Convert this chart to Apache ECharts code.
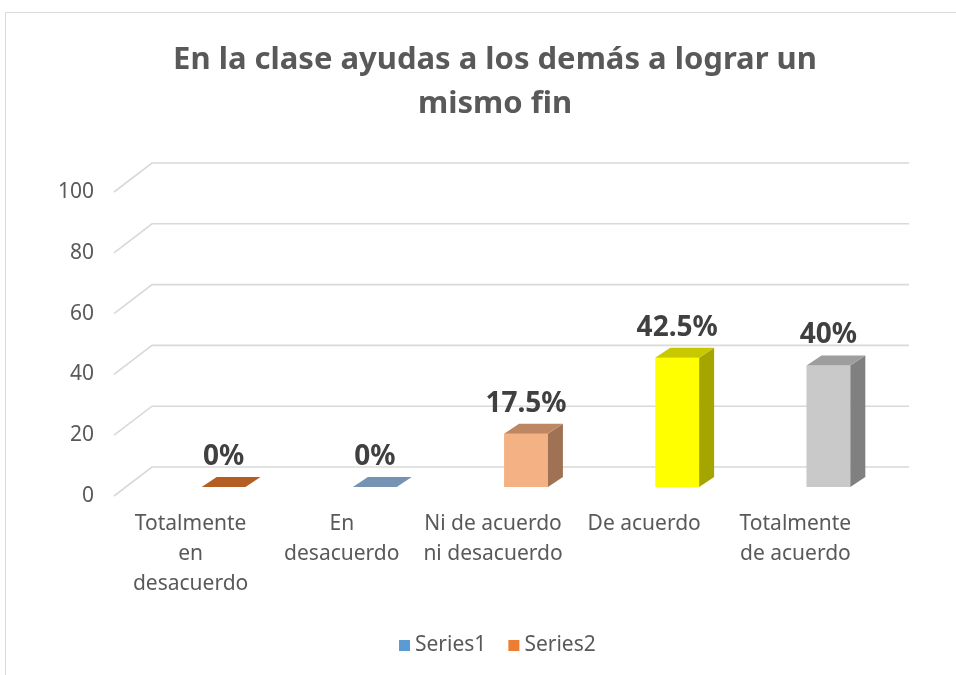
<!DOCTYPE html>
<html>
<head>
<meta charset="utf-8">
<script src="https://cdn.jsdelivr.net/npm/echarts@6/dist/echarts.min.js"></script>
<style>
  html, body { margin: 0; padding: 0; background: #fff; }
  #chart { width: 956px; height: 675px; }
</style>
</head>
<body>
<div id="chart"></div>
<script>
const categories = [
  'Totalmente\nen\ndesacuerdo',
  'En\ndesacuerdo',
  'Ni de acuerdo\nni desacuerdo',
  'De acuerdo',
  'Totalmente\nde acuerdo',
]
const values = [0, 0, 17.5, 42.5, 40]
const valueLabels = ['0%', '0%', '17.5%', '42.5%', '40%']
const yTicks = [0, 20, 40, 60, 80, 100]
const seriesNames = ['Series1', 'Series2']

// front / side / top colours per bar
const barColors = [
  { front: '#ed7d31', side: '#a0521f', top: '#b55e23' },
  { front: '#9dc3e6', side: '#5f7f9f', top: '#7593b3' },
  { front: '#f4b183', side: '#9e7253', top: '#be8763' },
  { front: '#ffff00', side: '#a5a500', top: '#c8c800' },
  { front: '#c9c9c9', side: '#808080', top: '#9e9e9e' },
]

const FONT = 'Noto Sans'
const DEPTH_X = 15 // bar depth
const DEPTH_Y = -10

const chart = echarts.init(document.getElementById('chart'), null, { renderer: 'canvas' })

// back walls / floor grid lines (drawn in bar plane coords)
function renderGridLine(params, api) {
  const cs = params.coordSys
  const y = api.coord([0, api.value(0)])[1]
  return {
    type: 'polyline',
    shape: {
      points: [
        [cs.x - 34, y + 9],
        [cs.x + 4, y - 20],
        [cs.x + cs.width + 5, y - 20],
      ],
    },
    style: { stroke: '#d9d9d9', lineWidth: 1.6, fill: null },
    silent: true,
  }
}

function renderBar(params, api) {
  const i = params.dataIndex
  const c = barColors[i]
  const base = api.coord([api.value(0), 0])
  const top = api.coord([api.value(0), api.value(1)])
  const bw = api.size([1, 0])[0] * 0.29
  const x0 = base[0] - bw / 2
  const x1 = base[0] + bw / 2
  const yb = base[1]
  const yt = top[1]
  const children = []
  if (yb - yt > 0.5) {
    children.push({
      type: 'rect',
      shape: { x: x0, y: yt, width: bw, height: yb - yt },
      style: { fill: c.front },
    })
    children.push({
      type: 'polygon',
      shape: { points: [[x1, yt], [x1 + DEPTH_X, yt + DEPTH_Y], [x1 + DEPTH_X, yb + DEPTH_Y], [x1, yb]] },
      style: { fill: c.side },
    })
  }
  children.push({
    type: 'polygon',
    shape: { points: [[x0, yt], [x0 + DEPTH_X, yt + DEPTH_Y], [x1 + DEPTH_X, yt + DEPTH_Y], [x1, yt]] },
    style: { fill: c.top },
  })
  children.push({
    type: 'text',
    style: {
      x: base[0],
      y: yt - 30,
      text: valueLabels[i],
      align: 'center',
      verticalAlign: 'middle',
      font: 'bold 28px "' + FONT + '"',
      fill: '#404040',
    },
  })
  return { type: 'group', children: children }
}

const option = {
  backgroundColor: '#fff',
  animation: false,
  title: {
    text: 'En la clase ayudas a los demás a lograr un\nmismo fin',
    left: 490,
    textAlign: 'center',
    top: 33,
    textStyle: {
      fontFamily: FONT,
      fontSize: 31,
      fontWeight: 'bold',
      color: '#595959',
      lineHeight: 44,
    },
  },
  legend: {
    data: seriesNames,
    left: 394,
    top: 630,
    itemWidth: 11,
    itemHeight: 11,
    itemGap: 22,
    icon: 'rect',
    textStyle: { fontFamily: FONT, fontSize: 21, color: '#595959' },
  },
  graphic: [
    {
      type: 'rect',
      shape: { x: 5.5, y: 12.5, width: 1000, height: 700 },
      style: { fill: null, stroke: '#d9d9d9', lineWidth: 1 },
      silent: true,
    },
  ],
  grid: [
    // bar plane
    { left: 148, right: 52, top: 183, bottom: 188 },
    // front plane: tick labels and category labels
    { left: 115, right: 85, top: 192, bottom: 179 },
  ],
  xAxis: [
    {
      type: 'category',
      gridIndex: 0,
      data: categories,
      axisLine: { show: false },
      axisTick: { show: false },
      axisLabel: { show: false },
    },
    {
      type: 'category',
      gridIndex: 1,
      data: categories,
      axisLine: { show: false },
      axisTick: { show: false },
      axisLabel: {
        interval: 0,
        margin: 13,
        fontFamily: FONT,
        fontSize: 21,
        lineHeight: 30,
        color: '#595959',
      },
    },
  ],
  yAxis: [
    {
      type: 'value',
      gridIndex: 0,
      min: 0,
      max: 100,
      interval: 20,
      axisLine: { show: false },
      axisTick: { show: false },
      axisLabel: { show: false },
      splitLine: { show: false },
    },
    {
      type: 'value',
      gridIndex: 1,
      min: 0,
      max: 100,
      interval: 20,
      axisLine: { show: false },
      axisTick: { show: false },
      splitLine: { show: false },
      axisLabel: {
        margin: 21,
        fontFamily: FONT,
        fontSize: 21,
        color: '#595959',
      },
    },
  ],
  series: [
    {
      type: 'custom',
      xAxisIndex: 0,
      yAxisIndex: 0,
      renderItem: renderGridLine,
      data: yTicks.map(v => [v]),
      z: 1,
      silent: true,
      legendHoverLink: false,
    },
    {
      name: seriesNames[0],
      type: 'custom',
      xAxisIndex: 0,
      yAxisIndex: 0,
      color: '#5b9bd5',
      renderItem: renderBar,
      encode: { x: 0, y: 1 },
      data: values.map((v, i) => [i, v]),
      z: 3,
    },
    {
      name: seriesNames[1],
      type: 'custom',
      xAxisIndex: 0,
      yAxisIndex: 0,
      color: '#ed7d31',
      renderItem: renderBar,
      data: [],
      z: 3,
    },
  ],
}

chart.setOption(option)
</script>
</body>
</html>
